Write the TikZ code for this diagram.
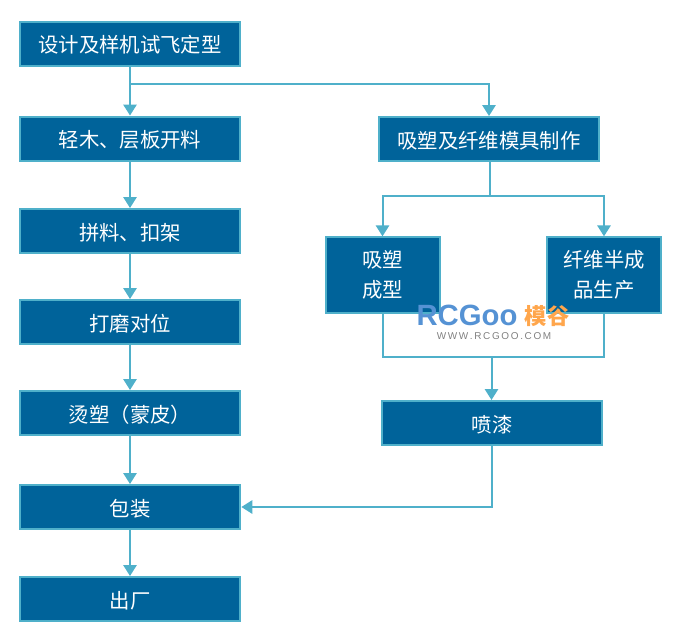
\documentclass[tikz,border=0pt]{standalone}
\usepackage{fontspec}
\setmainfont{Noto Sans CJK SC}
\setsansfont{Liberation Sans}
\usepackage{xcolor}
\usetikzlibrary{arrows.meta,calc}
\definecolor{boxblue}{HTML}{00639A}
\definecolor{linecyan}{HTML}{4FB0CA}

\begin{document}
\begin{tikzpicture}[
  x=0.03cm, y=-0.03cm,
  font=\fontsize{17.4}{21}\selectfont,
  base/.style={rectangle, draw=linecyan, line width=0.06cm, fill=boxblue,
              text=white, inner sep=0pt, align=center},
  box/.style={base, minimum width=6.62cm, minimum height=1.32cm,
              text height=16pt, text depth=0pt},
  tallbox/.style={base, minimum width=3.42cm, minimum height=2.26cm},
  arr/.style={-{Triangle[width=0.4cm,length=0.33cm]}, draw=linecyan, line width=0.06cm},
  link/.style={draw=linecyan, line width=0.06cm}
]
\useasboundingbox (0,0) rectangle (675,642);

% ---- Left column ----
\node[box] (design) at (130,43.5)  {设计及样机试飞定型};
\node[box] (cut)    at (130,138.5) {轻木、层板开料};
\node[box] (frame)  at (130,231)   {拼料、扣架};
\node[box] (sand)   at (130,322)   {打磨对位};
\node[box] (skin)   at (130,413)   {烫塑（蒙皮）};
\node[box] (pack)   at (130,507)   {包装};
\node[box] (ship)   at (130,599)   {出厂};

\draw[arr] (design) -- (cut);
\draw[arr] (cut)    -- (frame);
\draw[arr] (frame)  -- (sand);
\draw[arr] (sand)   -- (skin);
\draw[arr] (skin)   -- (pack);
\draw[arr] (pack)   -- (ship);

% ---- Right column ----
\node[box]     (mold)  at (489,139) {吸塑及纤维模具制作};
\node[tallbox] (vac)   at (382.5,275) {吸塑\\[5pt]成型};
\node[tallbox] (fiber) at (604,275)   {纤维半成\\[5pt]品生产};
\node[box]     (paint) at (492,423)   {喷漆};

% ---- Junctions ----
\coordinate (split) at (130,84);
\coordinate (fork)  at (490,196);
\coordinate (merge) at (491.5,357);

\draw[arr]  (split) -| (mold.north);
\draw[link] (mold.south -| fork) -- (fork);
\draw[arr]  (fork) -| (vac.north);
\draw[arr]  (fork) -| (fiber.north);
\draw[link] (vac.south) |- (merge);
\draw[link] (fiber.south) |- (merge);
\draw[arr]  (merge) -- (merge |- paint.north);
\draw[arr]  (paint.south) |- (pack.east);

% ---- Watermark ----
\node[text=cyan!55!blue!70, font=\sffamily\bfseries\fontsize{25}{25}\selectfont, inner sep=0pt] (mark) at (467,315) {RCGoo};
\node[text=orange!70, font=\bfseries\fontsize{19}{19}\selectfont, inner sep=0pt] (markcn) at (547,316) {模谷};
\node[text=gray, font=\sffamily\fontsize{8.5}{9}\selectfont, inner sep=0pt] (markurl) at (494,336.5) {W\,W\,W\,.\,R\,C\,G\,O\,O\,.\,C\,O\,M};

\end{tikzpicture}
\end{document}
